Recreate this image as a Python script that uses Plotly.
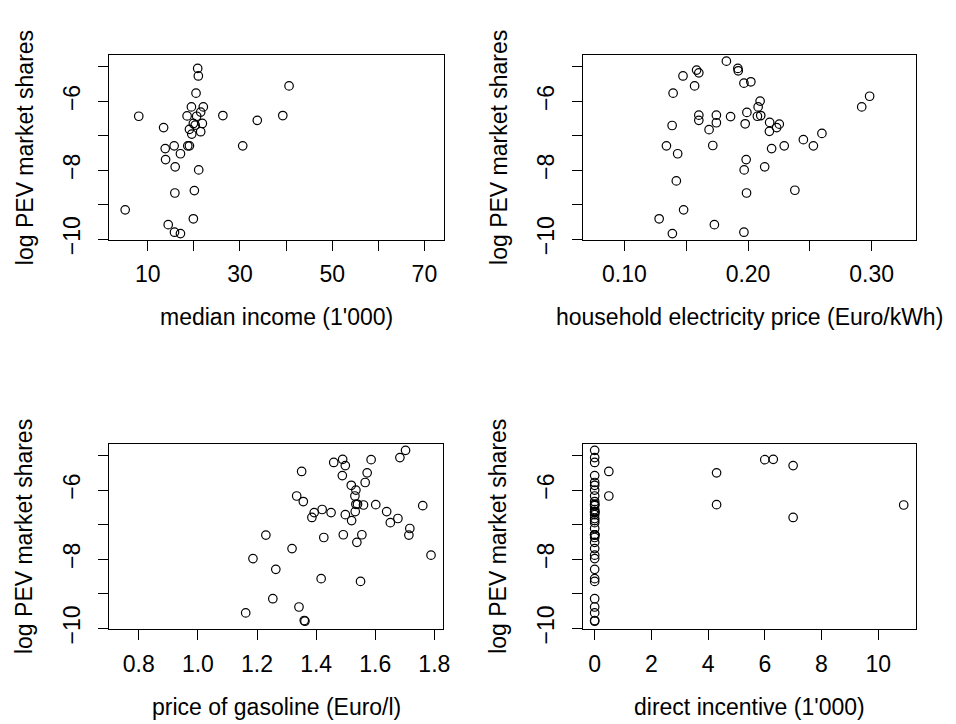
import plotly.graph_objects as go

# ---------------- data ----------------
income = [20.84, 20.98, 20.48, 40.65, 19.48, 22.06, 21.49, 18.54, 20.62, 8.06,
          26.3, 39.29, 33.76, 19.9, 21.85, 20.3, 13.45, 19.05, 21.49, 19.55,
          15.74, 13.8, 18.69, 19.05, 30.6, 17.1, 13.88, 15.96, 21.06, 20.12,
          15.89, 5.12, 19.9, 14.45, 15.81, 17.1]
income_share = [-5.04, -5.26, -5.76, -5.55, -6.16, -6.16, -6.31, -6.42, -6.43, -6.43,
                -6.41, -6.41, -6.55, -6.64, -6.64, -6.69, -6.76, -6.81, -6.88, -6.95,
                -7.29, -7.37, -7.29, -7.29, -7.29, -7.52, -7.69, -7.90, -7.99, -8.59,
                -8.66, -9.15, -9.41, -9.58, -9.80, -9.84]

electricity = [0.1825, 0.1918, 0.1921, 0.1584, 0.1602, 0.1474, 0.1967, 0.2023, 0.1568, 0.1394,
               0.2098, 0.2082, 0.2984, 0.2920, 0.1602, 0.1602, 0.1744, 0.1744, 0.1859, 0.1991,
               0.1977, 0.2076, 0.2103, 0.1386, 0.1685, 0.2175, 0.2253, 0.2232, 0.2173, 0.2598,
               0.2448, 0.2529, 0.2293, 0.2191, 0.1340, 0.1715, 0.1431, 0.1985, 0.1969, 0.2135,
               0.1420, 0.1988, 0.2379, 0.1479, 0.1281, 0.1728, 0.1388, 0.1967]
electricity_share = [-4.83, -5.04, -5.11, -5.09, -5.17, -5.26, -5.47, -5.43, -5.55, -5.76,
                     -5.99, -6.16, -5.85, -6.16, -6.40, -6.55, -6.40, -6.62, -6.44, -6.32,
                     -6.65, -6.43, -6.41, -6.70, -6.82, -6.61, -6.66, -6.76, -6.87, -6.93,
                     -7.11, -7.29, -7.29, -7.37, -7.29, -7.28, -7.52, -7.69, -7.99, -7.90,
                     -8.31, -8.66, -8.58, -9.15, -9.41, -9.58, -9.84, -9.80]

gasoline = [1.7026, 1.6835, 1.4898, 1.4596, 1.5861, 1.4988, 1.3510, 1.5727, 1.4887, 1.5660,
            1.5190, 1.5346, 1.5313, 1.3342, 1.3566, 1.5346, 1.5400, 1.5604, 1.6018, 1.7608,
            1.4204, 1.3935, 1.4506, 1.4988, 1.5324, 1.6387, 1.3857, 1.5201, 1.6768, 1.6511,
            1.7171, 1.7138, 1.2300, 1.4260, 1.4920, 1.5548, 1.5379, 1.3185, 1.1863, 1.7888,
            1.2636, 1.4170, 1.5503, 1.2535, 1.3420, 1.1617, 1.3599, 1.3622]
log_share = [-4.85, -5.06, -5.11, -5.20, -5.12, -5.29, -5.46, -5.50, -5.58, -5.78,
             -5.86, -6.00, -6.17, -6.17, -6.33, -6.41, -6.41, -6.43, -6.42, -6.45,
             -6.56, -6.65, -6.65, -6.71, -6.62, -6.62, -6.79, -6.88, -6.82, -6.94,
             -7.11, -7.30, -7.30, -7.37, -7.29, -7.29, -7.51, -7.69, -7.98, -7.88,
             -8.29, -8.56, -8.64, -9.14, -9.38, -9.55, -9.77, -9.79]
incentive = [0, 0, 6.3, 0, 6.0, 7.0, 0.5, 4.3, 0, 0,
             0, 0, 0, 0.5, 0, 0, 0, 10.9, 4.3, 0,
             0, 0, 0, 0, 0, 0, 7.0, 0, 0, 0,
             0, 0, 0, 0, 0, 0, 0, 0, 0, 0,
             0, 0, 0, 0, 0, 0, 0, 0]

y_ticks = [-5, -6, -7, -8, -9, -10]
y_labels = ["", "\u22126", "", "\u22128", "", "\u221210"]
inc_ticks = [10, 20, 30, 40, 50, 60, 70]
inc_labels = ["10", "", "30", "", "50", "", "70"]
elec_ticks = [0.10, 0.15, 0.20, 0.25, 0.30]
elec_labels = ["0.10", "", "0.20", "", "0.30"]
gas_ticks = [0.8, 1.0, 1.2, 1.4, 1.6, 1.8]
gas_labels = ["0.8", "1.0", "1.2", "1.4", "1.6", "1.8"]
inc_ticks2 = [0, 2, 4, 6, 8, 10]
inc_labels2 = ["0", "2", "4", "6", "8", "10"]

x_titles = ["median income (1'000)", "household electricity price (Euro/kWh)",
            "price of gasoline (Euro/l)", "direct incentive (1'000)"]
y_title = "log PEV market shares"

# ---------------- layout ----------------
W, H = 956, 724
FONT = "Liberation Sans, Arial, Helvetica, sans-serif"
FS = 23

boxes = {  # left, right, top, bottom in pixels
    1: (101.7, 439.0, 48.3, 236.7),
    2: (579.0, 914.3, 48.3, 236.7),
    3: (101.7, 438.7, 445.0, 634.3),
    4: (579.0, 914.3, 445.0, 634.3),
}
xranges = {1: [1.6, 74.2], 2: [0.0663, 0.3356], 3: [0.699, 1.831], 4: [-0.42, 11.32]}
yrange = [-10.02, -4.66]
xtick_sets = {1: (inc_ticks, inc_labels), 2: (elec_ticks, elec_labels),
              3: (gas_ticks, gas_labels), 4: (inc_ticks2, inc_labels2)}
series = {1: (income, income_share), 2: (electricity, electricity_share),
          3: (gasoline, log_share), 4: (incentive, log_share)}

fig = go.Figure()
layout = dict(width=W, height=H, margin=dict(l=0, r=0, t=0, b=0),
              paper_bgcolor="white", plot_bgcolor="white", showlegend=False,
              font=dict(family=FONT, size=FS, color="black"))
annotations = []
for i in range(1, 5):
    l, r, t, b = boxes[i]
    xs, ys = series[i]
    sfx = "" if i == 1 else str(i)
    fig.add_trace(go.Scatter(x=xs, y=ys, mode="markers",
                             xaxis="x" + sfx, yaxis="y" + sfx,
                             marker=dict(symbol="circle-open", size=8.5, color="black",
                                         line=dict(width=1.2, color="black")),
                             hoverinfo="skip"))
    tv, tt = xtick_sets[i]
    common = dict(showline=True, mirror=True, linecolor="black", linewidth=1,
                  ticks="outside", ticklen=10, tickwidth=1, tickcolor="black",
                  showgrid=False, zeroline=False,
                  tickfont=dict(family=FONT, size=FS, color="black"))
    layout["xaxis" + sfx] = dict(domain=[l / W, r / W], range=xranges[i],
                                 anchor="y" + sfx, tickmode="array",
                                 tickvals=tv, ticktext=tt, ticklabelstandoff=4,
                                 **common)
    layout["yaxis" + sfx] = dict(domain=[1 - b / H, 1 - t / H], range=yrange,
                                 anchor="x" + sfx, tickmode="array",
                                 tickvals=y_ticks, ticktext=y_labels,
                                 tickangle=-90, ticklabelstandoff=9, **common)
    annotations.append(dict(text=x_titles[i - 1], xref="paper", yref="paper",
                            x=(l + r) / 2 / W, y=1 - (b + 79) / H,
                            xanchor="center", yanchor="middle", showarrow=False,
                            font=dict(family=FONT, size=FS, color="black")))
    annotations.append(dict(text=y_title, xref="paper", yref="paper",
                            x=(l - 85) / W, y=1 - (t + b) / 2 / H, textangle=-90,
                            xanchor="center", yanchor="middle", showarrow=False,
                            font=dict(family=FONT, size=FS, color="black")))
layout["annotations"] = annotations
fig.update_layout(**layout)
fig.write_html("out.html")
